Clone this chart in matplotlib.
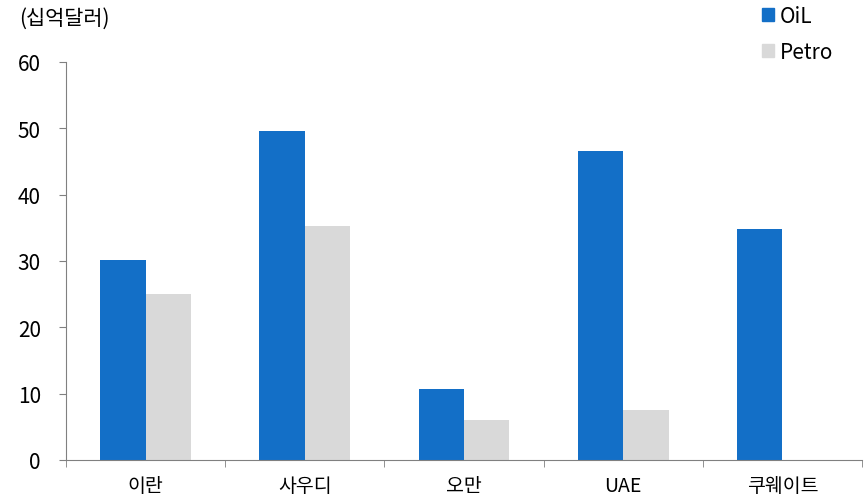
import matplotlib.pyplot as plt
import numpy as np
from matplotlib.patches import Patch

plt.rcParams['font.family'] = ['Noto Sans CJK KR', 'DejaVu Sans']

categories = ['이란', '사우디', '오만', 'UAE', '쿠웨이트']
oil = [30.2, 49.6, 10.7, 46.6, 34.8]
petro = [25.0, 35.3, 6.0, 7.5, 0.0]

blue = '#136fc7'
gray = '#d9d9d9'

fig = plt.figure(figsize=(8.68, 5.02), dpi=100)
ax = fig.add_axes([0.076, 0.0817, 0.917, 0.793])

x = np.arange(len(categories))
w = 0.285
ax.bar(x - w / 2, oil, w, color=blue, label='OiL')
ax.bar(x + w / 2, petro, w, color=gray, label='Petro')

ax.set_xlim(-0.5, len(categories) - 0.5)
ax.set_ylim(0, 60)
ax.set_yticks(range(0, 61, 10))
ax.tick_params(axis='y', labelsize=15, length=5, pad=13, color='#808080')

ax.set_xticks(x)
ax.set_xticklabels(categories, fontsize=14)
ax.tick_params(axis='x', which='major', length=0, pad=11)
ax.set_xticks(np.arange(-0.5, len(categories), 1), minor=True)
ax.tick_params(axis='x', which='minor', length=5, color='#808080')

for s in ['top', 'right']:
    ax.spines[s].set_visible(False)
for s in ['left', 'bottom']:
    ax.spines[s].set_color('#808080')

fig.text(0.022, 0.963, '(십억달러)', fontsize=15, va='center')

handles = [Patch(color=blue), Patch(color=gray)]
fig.legend(handles, ['OiL', 'Petro'], loc='upper left', bbox_to_anchor=(0.856, 1.025),
           frameon=False, fontsize=15, handlelength=0.6, handleheight=0.6,
           handletextpad=0.25, labelspacing=0.65)

plt.savefig('out.png', dpi=100)
